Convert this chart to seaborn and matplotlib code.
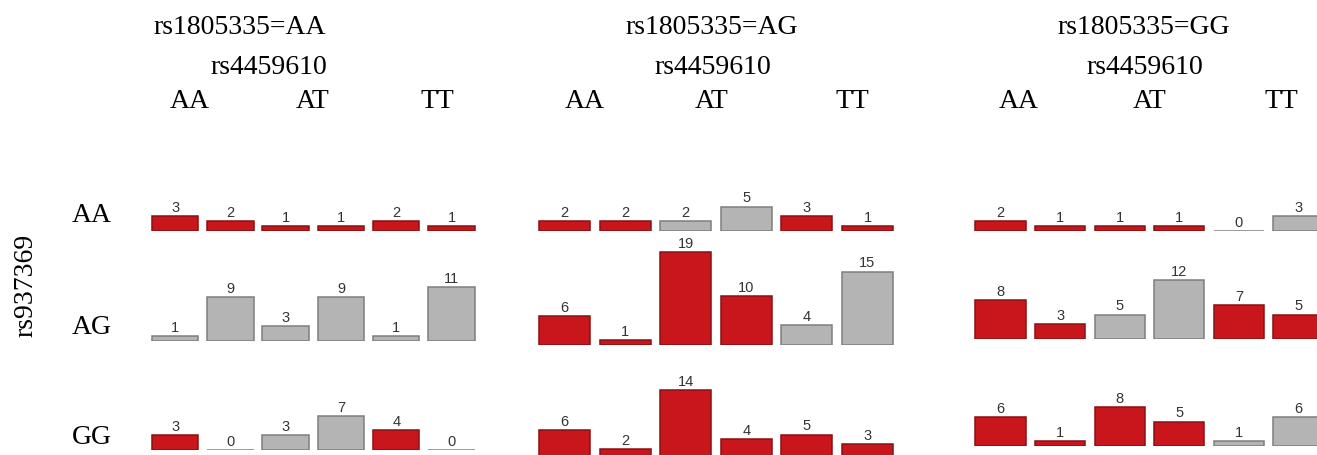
import pandas as pd
import numpy as np
import seaborn as sns
import matplotlib.pyplot as plt

# genotype groups
rs1805335 = ["AA", "AG", "GG"]      # panels
rs937369 = ["AA", "AG", "GG"]       # rows
rs4459610 = ["AA", "AT", "TT"]      # column groups (two bars each)

# counts per row (6 bars: two per rs4459610 genotype)
counts_AA = [[3, 2, 1, 1, 2, 1],
             [1, 9, 3, 9, 1, 11],
             [3, 0, 3, 7, 4, 0]]
counts_AG = [[2, 2, 2, 5, 3, 1],
             [6, 1, 19, 10, 4, 15],
             [6, 2, 14, 4, 5, 3]]
counts_GG = [[2, 1, 1, 1, 0, 3],
             [8, 3, 5, 12, 7, 5],
             [6, 1, 8, 5, 1, 6]]

# risk class of each cell: H = high risk (red), L = low risk (grey)
risk_AA = [["H", "H", "H", "H", "H", "H"],
           ["L", "L", "L", "L", "L", "L"],
           ["H", "L", "L", "L", "H", "L"]]
risk_AG = [["H", "H", "L", "L", "H", "H"],
           ["H", "H", "H", "H", "L", "L"],
           ["H", "H", "H", "H", "H", "H"]]
risk_GG = [["H", "H", "H", "H", "L", "L"],
           ["H", "H", "L", "L", "H", "H"],
           ["H", "H", "H", "H", "L", "L"]]

counts = [counts_AA, counts_AG, counts_GG]
risks = [risk_AA, risk_AG, risk_GG]

palette = {"H": "#c8161c", "L": "#b4b4b4"}
edges = {"H": "#8a1012", "L": "#7e7e7e"}

W, H = 1317, 456
PX_UNIT = 4.9
YMAX = 22

# panel layout in pixels: left edge, bar spacing, row baselines
panel_left = [147.4, 534.2, 970.7]
panel_step = [55.3, 60.6, 59.6]
baselines = [[232, 342, 451], [232, 346, 460], [232, 340, 447]]

serif = "Liberation Serif"
sans = "Liberation Sans"
FS = 20

fig = plt.figure(figsize=(W / 100, H / 100), dpi=100)

for p in range(3):
    for r in range(3):
        base = baselines[p][r]
        ax = fig.add_axes([panel_left[p] / W, (H - base) / H,
                           6 * panel_step[p] / W, YMAX * PX_UNIT / H])
        df = pd.DataFrame({"bar": np.arange(6),
                           "count": counts[p][r],
                           "risk": risks[p][r]})
        sns.barplot(data=df, x="bar", y="count", hue="risk",
                    palette=palette, dodge=False, width=0.84,
                    saturation=1, legend=False, linewidth=1.1, ax=ax)
        for patch in ax.patches:
            fc = patch.get_facecolor()
            key = "H" if fc[0] > fc[1] + 0.2 else "L"
            patch.set_edgecolor(edges[key])
        for cont in ax.containers:
            ax.bar_label(cont, fmt="%d", padding=1.5, fontsize=10.5,
                         color="#333333", family=sans)
        ax.set_xlim(-0.5, 5.5)
        ax.set_ylim(0, YMAX)
        ax.axis("off")

# headers
title_x = [240, 712, 1144]
sub_x = [269, 713, 1145]
col_x = [[190, 313, 437], [585, 712, 852], [1019, 1150, 1281]]
for p in range(3):
    fig.text(title_x[p] / W, 1 - 27 / H, "rs1805335=" + rs1805335[p],
             ha="center", va="center", fontsize=FS, family=serif)
    fig.text(sub_x[p] / W, 1 - 67 / H, "rs4459610",
             ha="center", va="center", fontsize=FS, family=serif)
    for c in range(3):
        fig.text(col_x[p][c] / W, 1 - 101 / H, rs4459610[c],
                 ha="center", va="center", fontsize=FS, family=serif)

# row labels
row_y = [215, 328, 438]
for r in range(3):
    fig.text(92 / W, 1 - row_y[r] / H, rs937369[r],
             ha="center", va="center", fontsize=FS, family=serif)
fig.text(26 / W, 1 - 285 / H, "rs937369", rotation=90,
         ha="center", va="center", fontsize=FS, family=serif)

fig.savefig("out.png", dpi=100)
